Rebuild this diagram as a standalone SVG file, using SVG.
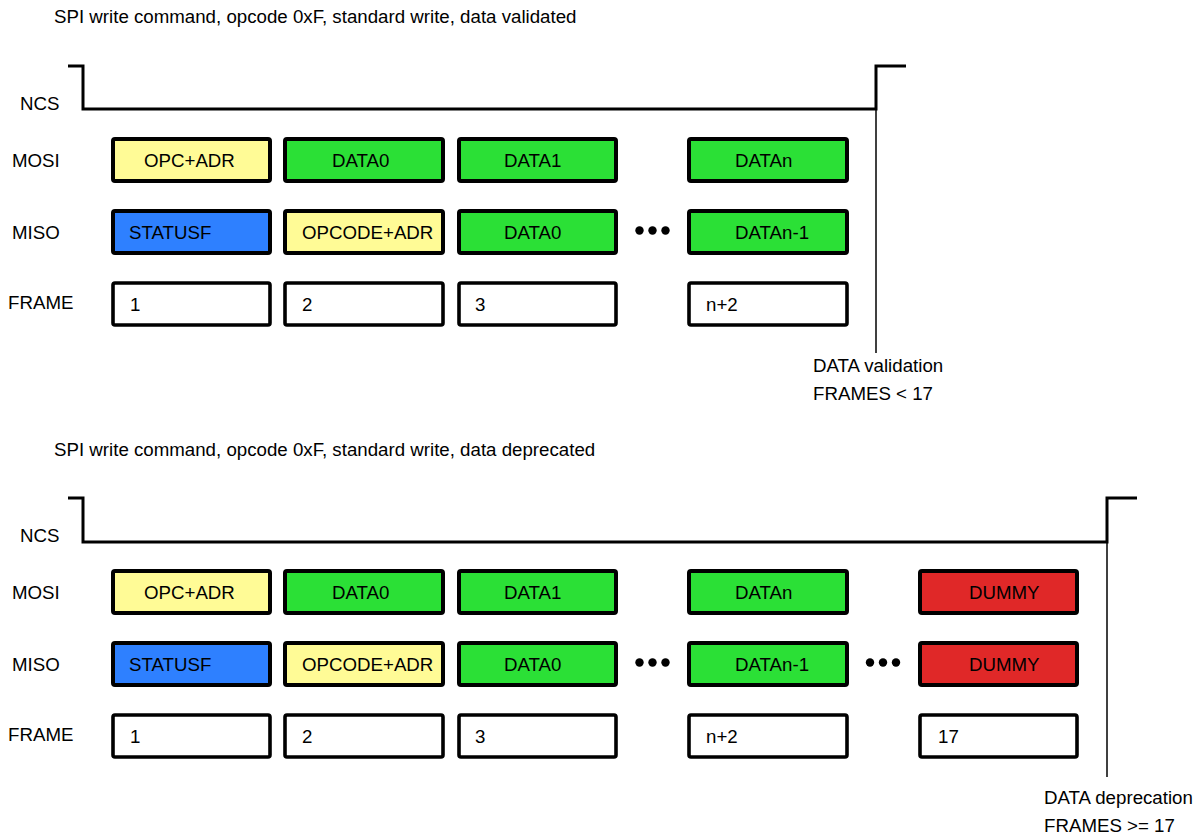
<svg xmlns="http://www.w3.org/2000/svg" width="1194" height="834" viewBox="0 0 1194 834">
<style>
text{font-family:"Liberation Sans",Arial,sans-serif;font-size:18.7px;fill:#000}
.b{stroke:#000;stroke-width:4}
.f{fill:#fff;stroke:#000;stroke-width:3.6}
.y{fill:#FFFB96}
.g{fill:#2BE036}
.bl{fill:#2E80FF}
.r{fill:#E02828}
.sig{fill:none;stroke:#000;stroke-width:3}
.mk{fill:none;stroke:#000;stroke-width:1.5}
</style>
<rect width="1194" height="834" fill="#fff"/>
<defs>
<g id="dots"><circle cx="-13" cy="0" r="4.2"/><circle cx="0" cy="0" r="4.2"/><circle cx="13" cy="0" r="4.2"/></g>
</defs>

<!-- ===== Top diagram ===== -->
<g id="top-title"><text x="54" y="23">SPI write command, opcode 0xF, standard write, data validated</text></g>
<g id="top-labels">
<text x="20" y="110">NCS</text>
<text x="12" y="167">MOSI</text>
<text x="12" y="239">MISO</text>
<text x="8" y="309">FRAME</text>
</g>
<g id="top-connectors">
<path class="sig" d="M68,66 H83 V109 H876 V66 H906"/>
<path class="mk" d="M876,109 V353"/>
</g>
<g id="top-mosi1"><rect class="b y" x="113" y="139" width="157" height="42" rx="2"/><text x="144" y="167">OPC+ADR</text></g>
<g id="top-mosi2"><rect class="b g" x="285" y="139" width="158" height="42" rx="2"/><text x="332" y="167">DATA0</text></g>
<g id="top-mosi3"><rect class="b g" x="459" y="139" width="157" height="42" rx="2"/><text x="504" y="167">DATA1</text></g>
<g id="top-mosi4"><rect class="b g" x="689" y="139" width="158" height="42" rx="2"/><text x="735" y="167">DATAn</text></g>
<g id="top-miso1"><rect class="b bl" x="113" y="211" width="157" height="42" rx="2"/><text x="129" y="239">STATUSF</text></g>
<g id="top-miso2"><rect class="b y" x="285" y="211" width="158" height="42" rx="2"/><text x="302" y="239">OPCODE+ADR</text></g>
<g id="top-miso3"><rect class="b g" x="459" y="211" width="157" height="42" rx="2"/><text x="504" y="239">DATA0</text></g>
<g id="top-dots"><use href="#dots" x="652.5" y="230.5"/></g>
<g id="top-miso4"><rect class="b g" x="689" y="211" width="158" height="42" rx="2"/><text x="735" y="239">DATAn-1</text></g>
<g id="top-frame1"><rect class="f" x="113" y="283" width="157" height="42" rx="2"/><text x="130" y="311">1</text></g>
<g id="top-frame2"><rect class="f" x="285" y="283" width="158" height="42" rx="2"/><text x="302" y="311">2</text></g>
<g id="top-frame3"><rect class="f" x="459" y="283" width="157" height="42" rx="2"/><text x="475" y="311">3</text></g>
<g id="top-frame4"><rect class="f" x="689" y="283" width="158" height="42" rx="2"/><text x="706" y="311">n+2</text></g>
<g id="top-note"><text x="813" y="372">DATA validation</text><text x="813" y="400">FRAMES &lt; 17</text></g>

<!-- ===== Bottom diagram ===== -->
<g id="bot-title"><text x="54" y="456">SPI write command, opcode 0xF, standard write, data deprecated</text></g>
<g id="bot-labels">
<text x="20" y="542">NCS</text>
<text x="12" y="599">MOSI</text>
<text x="12" y="671">MISO</text>
<text x="8" y="741">FRAME</text>
</g>
<g id="bot-connectors">
<path class="sig" d="M68,498 H83 V542 H1107 V498 H1137"/>
<path class="mk" d="M1107,542 V777"/>
</g>
<g id="bot-mosi1"><rect class="b y" x="113" y="571" width="157" height="42" rx="2"/><text x="144" y="599">OPC+ADR</text></g>
<g id="bot-mosi2"><rect class="b g" x="285" y="571" width="158" height="42" rx="2"/><text x="332" y="599">DATA0</text></g>
<g id="bot-mosi3"><rect class="b g" x="459" y="571" width="157" height="42" rx="2"/><text x="504" y="599">DATA1</text></g>
<g id="bot-mosi4"><rect class="b g" x="689" y="571" width="158" height="42" rx="2"/><text x="735" y="599">DATAn</text></g>
<g id="bot-mosi5"><rect class="b r" x="920" y="571" width="157" height="42" rx="2"/><text x="969" y="599">DUMMY</text></g>
<g id="bot-miso1"><rect class="b bl" x="113" y="643" width="157" height="42" rx="2"/><text x="129" y="671">STATUSF</text></g>
<g id="bot-miso2"><rect class="b y" x="285" y="643" width="158" height="42" rx="2"/><text x="302" y="671">OPCODE+ADR</text></g>
<g id="bot-miso3"><rect class="b g" x="459" y="643" width="157" height="42" rx="2"/><text x="504" y="671">DATA0</text></g>
<g id="bot-dots1"><use href="#dots" x="652.5" y="662.5"/></g>
<g id="bot-miso4"><rect class="b g" x="689" y="643" width="158" height="42" rx="2"/><text x="735" y="671">DATAn-1</text></g>
<g id="bot-dots2"><use href="#dots" x="883" y="662.5"/></g>
<g id="bot-miso5"><rect class="b r" x="920" y="643" width="157" height="42" rx="2"/><text x="969" y="671">DUMMY</text></g>
<g id="bot-frame1"><rect class="f" x="113" y="715" width="157" height="42" rx="2"/><text x="130" y="743">1</text></g>
<g id="bot-frame2"><rect class="f" x="285" y="715" width="158" height="42" rx="2"/><text x="302" y="743">2</text></g>
<g id="bot-frame3"><rect class="f" x="459" y="715" width="157" height="42" rx="2"/><text x="475" y="743">3</text></g>
<g id="bot-frame4"><rect class="f" x="689" y="715" width="158" height="42" rx="2"/><text x="706" y="743">n+2</text></g>
<g id="bot-frame5"><rect class="f" x="920" y="715" width="157" height="42" rx="2"/><text x="938" y="743">17</text></g>
<g id="bot-note"><text x="1044" y="804">DATA deprecation</text><text x="1044" y="832">FRAMES &gt;= 17</text></g>
</svg>
